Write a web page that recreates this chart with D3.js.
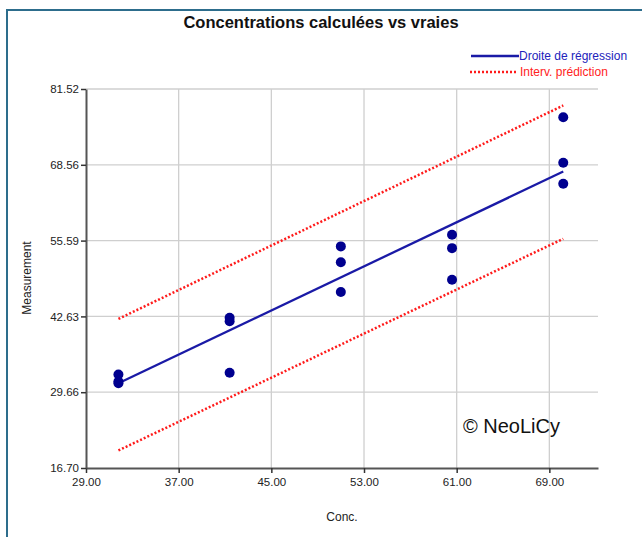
<!DOCTYPE html>
<html lang="fr">
<head>
<meta charset="UTF-8">
<script src="https://cdn.jsdelivr.net/npm/d3@7"></script>
<title>Concentrations calculées vs vraies</title>
<style>
  body { margin: 0; background: #fff; }
  svg { font-family: "Liberation Sans", Arial, sans-serif; }
</style>
</head>
<body>
<div id="chart"></div>
<script>
// données
var concX = [31.8, 31.8, 31.8, 41.4, 41.4, 41.4, 51.0, 51.0, 51.0, 60.6, 60.6, 60.6, 70.2, 70.2, 70.2];
var measY = [32.7, 31.5, 31.2, 42.4, 41.8, 33.0, 54.6, 51.9, 46.8, 56.6, 54.3, 48.9, 76.7, 68.9, 65.3];

// droite de régression et intervalle de prédiction (extrémités)
var lineX = [31.8, 70.2];
var regY = [31.2, 67.4];
var piUpper = [42.2, 78.7];
var piLower = [19.7, 55.9];

var xTicks = [29, 37, 45, 53, 61, 69];
var yTicks = [16.70, 29.664, 42.628, 55.592, 68.556, 81.52];

var W = 642, H = 537;
var plotL = 86, plotR = 598, plotT = 89, plotB = 468;

var svg = d3.select("#chart").append("svg")
  .attr("width", W)
  .attr("height", H);

// cadre
svg.append("path")
  .attr("d", "M7," + H + " L7,10 L" + W + ",10")
  .attr("fill", "none")
  .attr("stroke", "#2d6d8c")
  .attr("stroke-width", 2);

var x = d3.scaleLinear().domain([29, 73.2]).range([plotL, plotR]);
var y = d3.scaleLinear().domain([16.70, 81.52]).range([plotB, plotT]);

// grille
svg.append("g").selectAll("line")
  .data(yTicks.slice(1))
  .enter().append("line")
  .attr("x1", plotL).attr("x2", plotR)
  .attr("y1", d => y(d)).attr("y2", d => y(d))
  .attr("stroke", "#cfcfcf").attr("stroke-width", 1.3);

svg.append("g").selectAll("line")
  .data(xTicks.slice(1))
  .enter().append("line")
  .attr("x1", d => x(d)).attr("x2", d => x(d))
  .attr("y1", plotT).attr("y2", plotB)
  .attr("stroke", "#cfcfcf").attr("stroke-width", 1.3);

// axes
var xAxis = d3.axisBottom(x).tickValues(xTicks).tickFormat(d3.format(".2f")).tickSizeInner(5).tickSizeOuter(0);
var yAxis = d3.axisLeft(y).tickValues(yTicks).tickFormat(d3.format(".2f")).tickSizeInner(5).tickSizeOuter(0);

var gx = svg.append("g").attr("transform", "translate(0," + plotB + ")").call(xAxis);
var gy = svg.append("g").attr("transform", "translate(" + plotL + ",0)").call(yAxis);

[gx, gy].forEach(g => {
  g.select(".domain").attr("stroke", "#555").attr("stroke-width", 2);
  g.selectAll(".tick line").attr("stroke", "#333").attr("stroke-width", 1.5);
  g.selectAll(".tick text")
    .attr("fill", "#222")
    .style("font-family", "'Liberation Sans', Arial, sans-serif")
    .style("font-size", "11.5px");
});
gx.selectAll(".tick text").attr("dy", "0.85em");
gy.selectAll(".tick text").attr("x", -7);

// intervalle de prédiction
var line = d3.line().x(d => x(d[0])).y(d => y(d[1]));
[piUpper, piLower].forEach(arr => {
  svg.append("path")
    .attr("d", line(lineX.map((v, i) => [v, arr[i]])))
    .attr("fill", "none")
    .attr("stroke", "#ff1a1a")
    .attr("stroke-width", 2.5)
    .attr("stroke-dasharray", "2,2");
});

// droite de régression
svg.append("path")
  .attr("d", line(lineX.map((v, i) => [v, regY[i]])))
  .attr("fill", "none")
  .attr("stroke", "#1a1aa6")
  .attr("stroke-width", 2.3);

// points
svg.append("g").selectAll("circle")
  .data(concX.map((v, i) => [v, measY[i]]))
  .enter().append("circle")
  .attr("cx", d => x(d[0]))
  .attr("cy", d => y(d[1]))
  .attr("r", 5)
  .attr("fill", "#00008f");

// titre
svg.append("text")
  .attr("x", 321).attr("y", 28)
  .attr("text-anchor", "middle")
  .style("font-size", "16.5px")
  .style("font-weight", "bold")
  .attr("fill", "#111")
  .text("Concentrations calculées vs vraies");

// légende
svg.append("line")
  .attr("x1", 471).attr("x2", 519).attr("y1", 56).attr("y2", 56)
  .attr("stroke", "#1a1aa6").attr("stroke-width", 2.3);
svg.append("text")
  .attr("x", 519).attr("y", 60)
  .style("font-size", "12px")
  .attr("fill", "#2222bb")
  .text("Droite de régression");
svg.append("line")
  .attr("x1", 470).attr("x2", 517).attr("y1", 72).attr("y2", 72)
  .attr("stroke", "#ff1a1a").attr("stroke-width", 2.5).attr("stroke-dasharray", "2,2");
svg.append("text")
  .attr("x", 520).attr("y", 76)
  .style("font-size", "12px")
  .attr("fill", "#ff2222")
  .text("Interv. prédiction");

// titres des axes
svg.append("text")
  .attr("x", 342).attr("y", 521)
  .attr("text-anchor", "middle")
  .style("font-size", "12px")
  .attr("fill", "#222")
  .text("Conc.");
svg.append("text")
  .attr("transform", "translate(31,278) rotate(-90)")
  .attr("text-anchor", "middle")
  .style("font-size", "12px")
  .attr("fill", "#222")
  .text("Measurement");

// filigrane
svg.append("text")
  .attr("x", 463).attr("y", 433)
  .style("font-size", "20px")
  .attr("fill", "#111")
  .text("© NeoLiCy");
</script>
</body>
</html>
